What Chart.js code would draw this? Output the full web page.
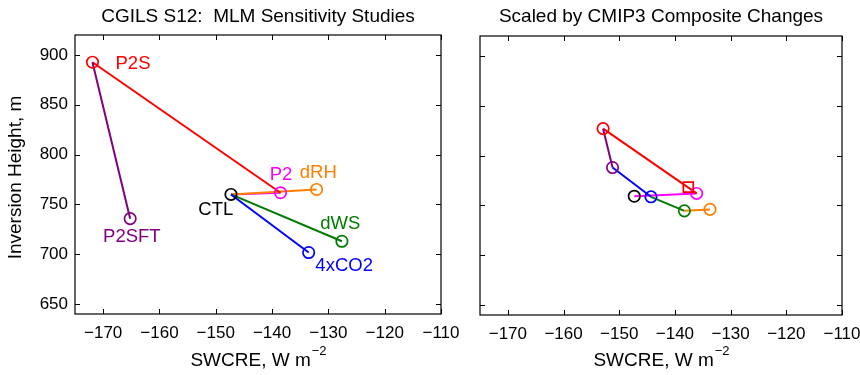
<!DOCTYPE html>
<html><head><meta charset="utf-8">
<script src="https://cdn.jsdelivr.net/npm/chart.js@4/dist/chart.umd.min.js"></script>
<style>
html,body{margin:0;padding:0;background:#fff;width:860px;height:375px;overflow:hidden}
#c1{position:absolute;left:0;top:0}
#c2{position:absolute;left:460px;top:0}
</style></head><body>
<canvas id="c1" width="480" height="375"></canvas>
<canvas id="c2" width="400" height="375"></canvas>
<script>
// ---- axis ticks / ranges ----
const xTicks = [-170, -160, -150, -140, -130, -120, -110];
const yTicks = [650, 700, 750, 800, 850, 900];
const xRange = [-175, -110];
const yRange = [640, 920];

// ---- cases ----
const caseNames = ['CTL', 'P2', 'P2S', 'P2SFT', 'dRH', 'dWS', '4xCO2'];
// left panel: MLM sensitivity studies (SWCRE, inversion height)
const leftX = [-147.3, -138.5, -171.9, -165.2, -132.1, -127.6, -133.5];
const leftY = [760, 761.7, 892.7, 735.7, 765, 713, 701.7];
// right panel: scaled by CMIP3 composite changes
const rightX = [-147.3, -136.1, -152.9, -151.2, -133.7, -138.3, -144.3];
const rightY = [759.2, 762, 827, 788, 746, 744.5, 758.6];
// extra square marker (right panel)
const squareX = [-137.6];
const squareY = [768.3];

// connecting segments
const leftLinks = [['CTL', 'P2'], ['CTL', 'dRH'], ['CTL', 'dWS'], ['CTL', '4xCO2'], ['P2', 'P2S'], ['P2S', 'P2SFT']];
const rightLinks = [['CTL', 'P2'], ['P2', 'P2S'], ['P2S', 'P2SFT'], ['P2SFT', '4xCO2'], ['4xCO2', 'dWS'], ['dWS', 'dRH']];

// text label anchor positions (data units, left panel)
const labelX = [-150, -138.4, -164.7, -164.9, -131.8, -127.9, -127.2];
const labelY = [744, 780, 891, 717, 782, 730, 688];

const caseColors = {CTL: '#000000', P2: '#ff00ff', P2S: '#ff0000', P2SFT: '#800080', dRH: '#ff8000', dWS: '#007a00', '4xCO2': '#0000ff'};
const FONT = "'Liberation Sans', Arial, Helvetica, sans-serif";
Chart.defaults.font.family = FONT;

function buildDatasets(xs, ys, links, square) {
  const pt = n => { const i = caseNames.indexOf(n); return {x: xs[i], y: ys[i]}; };
  const ds = [];
  links.forEach((l, i) => {
    ds.push({
      data: [pt(l[0]), pt(l[1])], showLine: true, borderColor: caseColors[l[1]],
      borderWidth: 2, pointRadius: 0, order: 100 - i, fill: false
    });
  });
  ds.push({
    data: caseNames.map((n, i) => ({x: xs[i], y: ys[i]})), showLine: false,
    pointRadius: 5.7, pointBorderWidth: 1.7,
    pointBorderColor: caseNames.map(n => caseColors[n]),
    pointBackgroundColor: 'rgba(0,0,0,0)', order: 1
  });
  if (square) {
    ds.push({
      data: squareX.map((v, i) => ({x: v, y: squareY[i]})), showLine: false,
      pointStyle: 'rect', pointRadius: 7, pointBorderWidth: 1.7,
      pointBorderColor: '#ff0000', pointBackgroundColor: 'rgba(0,0,0,0)', order: 0
    });
  }
  return ds;
}

function fmt(v) { return (v < 0 ? '\u2212' : '') + Math.abs(v); }

function decor(cfg) {
  return {
    id: 'decor',
    afterDraw(chart) {
      const ctx = chart.ctx, a = chart.chartArea, x = chart.scales.x, y = chart.scales.y;
      ctx.save();
      ctx.strokeStyle = '#000';
      ctx.lineWidth = 1.2;
      ctx.strokeRect(a.left, a.top, a.right - a.left, a.bottom - a.top);
      ctx.lineWidth = 1;
      ctx.beginPath();
      x.ticks.forEach(t => {
        const px = Math.round(x.getPixelForValue(t.value)) + 0.5;
        ctx.moveTo(px, a.bottom); ctx.lineTo(px, a.bottom - 5);
        ctx.moveTo(px, a.top); ctx.lineTo(px, a.top + 5);
      });
      y.ticks.forEach(t => {
        const py = Math.round(y.getPixelForValue(t.value)) + 0.5;
        ctx.moveTo(a.left, py); ctx.lineTo(a.left + 5, py);
        ctx.moveTo(a.right, py); ctx.lineTo(a.right - 5, py);
      });
      ctx.stroke();
      ctx.fillStyle = '#000';
      // title
      ctx.font = '19px ' + FONT;
      ctx.textAlign = 'center';
      ctx.textBaseline = 'alphabetic';
      const cx = (a.left + a.right) / 2;
      ctx.fillText(cfg.title, cx, 22);
      // x-axis title with superscript
      const main = 'SWCRE, W m', sup = '\u22122';
      ctx.font = '19px ' + FONT;
      const w1 = ctx.measureText(main).width;
      ctx.font = '13px ' + FONT;
      const w2 = ctx.measureText(sup).width;
      const x0 = cx - (w1 + w2) / 2;
      ctx.textAlign = 'left';
      ctx.font = '19px ' + FONT;
      ctx.fillText(main, x0, 366);
      ctx.font = '13px ' + FONT;
      ctx.fillText(sup, x0 + w1 + 1, 355);
      // y-axis title
      if (cfg.yTitle) {
        ctx.save();
        ctx.translate(16, (a.top + a.bottom) / 2 + 3);
        ctx.rotate(-Math.PI / 2);
        ctx.font = '19px ' + FONT;
        ctx.textAlign = 'center';
        ctx.textBaseline = 'middle';
        ctx.fillText(cfg.yTitle, 0, 0);
        ctx.restore();
      }
      // case labels
      if (cfg.labels) {
        ctx.font = '18.5px ' + FONT;
        ctx.textAlign = 'center';
        ctx.textBaseline = 'middle';
        caseNames.forEach((n, i) => {
          ctx.fillStyle = caseColors[n];
          ctx.fillText(n, x.getPixelForValue(labelX[i]), y.getPixelForValue(labelY[i]));
        });
      }
      ctx.restore();
    }
  };
}

function makeChart(id, xs, ys, links, opts) {
  return new Chart(document.getElementById(id), {
    type: 'scatter',
    data: {datasets: buildDatasets(xs, ys, links, opts.square)},
    options: {
      responsive: false, maintainAspectRatio: false, animation: false, devicePixelRatio: 1,
      layout: {padding: opts.padding},
      plugins: {legend: {display: false}, tooltip: {enabled: false}, title: {display: false}},
      scales: {
        x: {
          type: 'linear', min: xRange[0], max: xRange[1],
          grid: {display: false, drawTicks: false}, border: {display: false},
          afterBuildTicks: s => { s.ticks = xTicks.map(v => ({value: v})); },
          afterFit: s => { s.height = opts.xH; s.paddingLeft = 0; s.paddingRight = 0; },
          ticks: {color: '#000', font: {size: 17, family: FONT}, padding: 9, maxRotation: 0, autoSkip: false, callback: v => fmt(v)}
        },
        y: {
          type: 'linear', min: yRange[0], max: yRange[1],
          grid: {display: false, drawTicks: false}, border: {display: false},
          afterBuildTicks: s => { s.ticks = yTicks.map(v => ({value: v})); },
          afterFit: s => { s.width = opts.yW; s.paddingTop = 0; s.paddingBottom = 0; },
          ticks: {display: opts.yLabels, color: '#000', font: {size: 17, family: FONT}, padding: 7, autoSkip: false, callback: v => fmt(v)}
        }
      }
    },
    plugins: [decor(opts)]
  });
}

makeChart('c1', leftX, leftY, leftLinks, {
  title: 'CGILS S12:  MLM Sensitivity Studies', yTitle: 'Inversion Height, m', labels: true,
  padding: {left: 0, right: 39, top: 35, bottom: 0}, xH: 61, yW: 75, yLabels: true, square: false
});
makeChart('c2', rightX, rightY, rightLinks, {
  title: 'Scaled by CMIP3 Composite Changes', yTitle: null, labels: false,
  padding: {left: 0, right: 18, top: 36, bottom: 0}, xH: 60, yW: 20, yLabels: false, square: true
});
</script>
</body></html>
